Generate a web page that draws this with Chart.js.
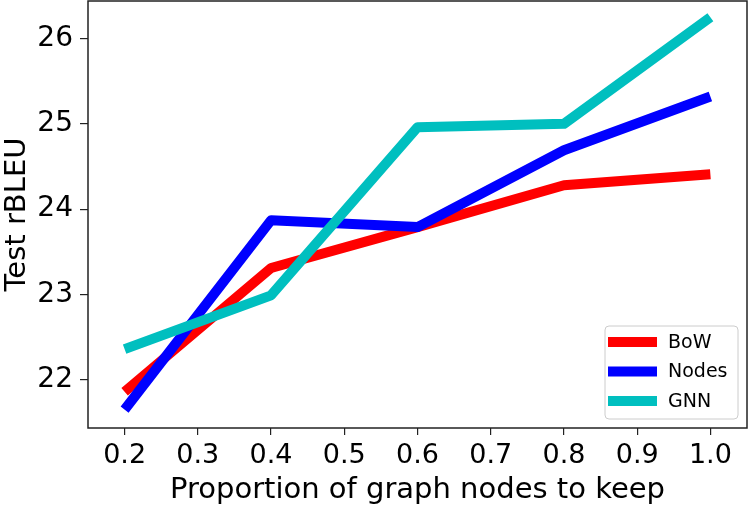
<!DOCTYPE html>
<html>
<head>
<meta charset="utf-8">
<script src="https://cdn.jsdelivr.net/npm/chart.js@4.4.1/dist/chart.umd.min.js"></script>
<style>
  html, body { margin: 0; padding: 0; background: #fff; }
  #wrap { width: 748px; height: 508px; }
</style>
</head>
<body>
<div id="wrap"><canvas id="rbleuChart" width="748" height="508"></canvas></div>
<script>
// proportion of graph nodes kept
const proportions = [0.2, 0.4, 0.6, 0.8, 1.0];

// test rBLEU per model
const bowScores   = [21.86, 23.31, 23.79, 24.28, 24.41];
const nodesScores = [21.65, 23.87, 23.79, 24.69, 25.32];
const gnnScores   = [22.36, 22.99, 24.96, 25.00, 26.25];

const xTicks = [0.2, 0.3, 0.4, 0.5, 0.6, 0.7, 0.8, 0.9, 1.0];
const yTicks = [22, 23, 24, 25, 26];

const FONT = "'DejaVu Sans', sans-serif";

function toPoints(ys) {
  return proportions.map((x, i) => ({ x: x, y: ys[i] }));
}

// no extra room for half tick labels at the ends
function noPad(scale) {
  scale.paddingTop = 0;
  scale.paddingBottom = 0;
  scale.paddingLeft = 0;
  scale.paddingRight = 0;
}

// box around the plot (matplotlib spines) + legend in lower right
const framePlugin = {
  id: 'frame',
  afterDraw(chart) {
    const { ctx, chartArea: a } = chart;
    ctx.save();
    ctx.strokeStyle = '#222';
    ctx.lineWidth = 1.5;
    ctx.strokeRect(a.left, a.top, a.right - a.left, a.bottom - a.top);

    // legend
    const w = 133, h = 93;
    const bx = a.right - 9 - w, by = a.bottom - 9 - h;
    ctx.beginPath();
    ctx.roundRect(bx, by, w, h, 4);
    ctx.fillStyle = 'rgba(255,255,255,0.8)';
    ctx.fill();
    ctx.strokeStyle = '#cccccc';
    ctx.lineWidth = 1;
    ctx.stroke();

    ctx.font = '19px ' + FONT;
    ctx.textBaseline = 'middle';
    ctx.textAlign = 'left';
    chart.data.datasets.forEach((ds, i) => {
      const yy = by + 16 + i * 29.5;
      ctx.beginPath();
      ctx.moveTo(bx + 3, yy);
      ctx.lineTo(bx + 52, yy);
      ctx.strokeStyle = ds.borderColor;
      ctx.lineWidth = 10;
      ctx.lineCap = 'butt';
      ctx.stroke();
      ctx.fillStyle = '#000';
      ctx.fillText(ds.label, bx + 63, yy + 1);
    });
    ctx.restore();
  }
};

const ctx = document.getElementById('rbleuChart').getContext('2d');

new Chart(ctx, {
  type: 'line',
  data: {
    datasets: [
      { label: 'BoW',   data: toPoints(bowScores),   borderColor: '#ff0000', order: 2 },
      { label: 'Nodes', data: toPoints(nodesScores), borderColor: '#0000ff', order: 1 },
      { label: 'GNN',   data: toPoints(gnnScores),   borderColor: '#00bfbf', order: 0 }
    ]
  },
  options: {
    responsive: false,
    animation: false,
    events: [],
    layout: { autoPadding: false, padding: { top: 1, right: 1, left: 0, bottom: 0 } },
    elements: {
      line: { borderWidth: 10, tension: 0, fill: false, borderJoinStyle: 'round', borderCapStyle: 'butt' },
      point: { radius: 0 }
    },
    plugins: {
      legend: { display: false },
      tooltip: { enabled: false }
    },
    scales: {
      x: {
        type: 'linear',
        min: 0.15,
        max: 1.05,
        afterFit(scale) { scale.height = 80; noPad(scale); },
        afterBuildTicks(scale) { scale.ticks = xTicks.map(v => ({ value: v })); },
        border: { display: false },
        grid: { drawOnChartArea: false, drawTicks: true, tickLength: 7, color: '#222', lineWidth: 1.2 },
        ticks: {
          color: '#000',
          font: { family: FONT, size: 27 },
          padding: 5,
          maxRotation: 0,
          callback: v => v.toFixed(1)
        },
        title: {
          display: true,
          text: 'Proportion of graph nodes to keep',
          color: '#000',
          font: { family: FONT, size: 29 },
          padding: { top: 0, bottom: 0 }
        }
      },
      y: {
        type: 'linear',
        min: 21.435,
        max: 26.44,
        afterFit(scale) { scale.width = 88; noPad(scale); },
        afterBuildTicks(scale) { scale.ticks = yTicks.map(v => ({ value: v })); },
        border: { display: false },
        grid: { drawOnChartArea: false, drawTicks: true, tickLength: 8, color: '#222', lineWidth: 1.2 },
        ticks: {
          color: '#000',
          font: { family: FONT, size: 28 },
          padding: 7,
          callback: v => String(v)
        },
        title: {
          display: true,
          text: 'Test rBLEU',
          color: '#000',
          font: { family: FONT, size: 29 },
          padding: { top: 0, bottom: 0 }
        }
      }
    }
  },
  plugins: [framePlugin]
});
</script>
</body>
</html>
